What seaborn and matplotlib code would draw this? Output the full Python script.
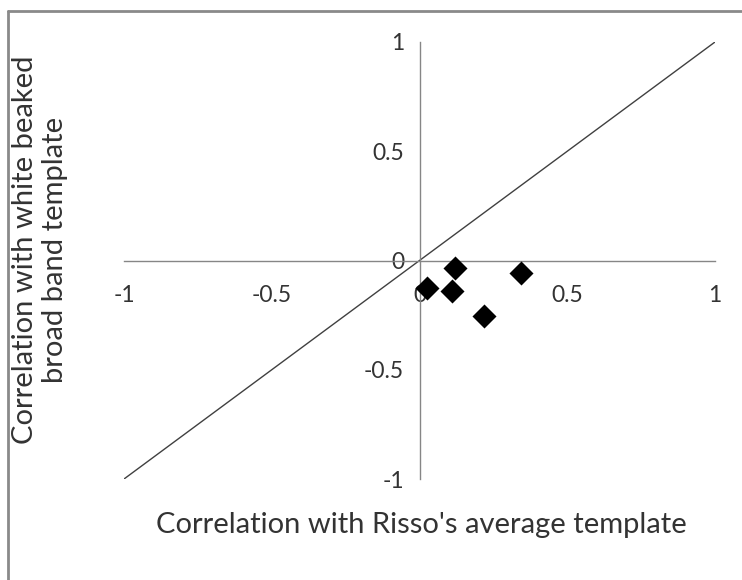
import matplotlib
matplotlib.use("Agg")
import matplotlib.pyplot as plt
import seaborn as sns
import pandas as pd
from matplotlib.lines import Line2D

# Correlation scores for each click
risso_corr = [0.025, 0.121, 0.110, 0.343, 0.219]
whitebeaked_corr = [-0.127, -0.035, -0.140, -0.058, -0.253]

# 1:1 reference line
ref_line = [-1, 1]
tick_values = [-1, -0.5, 0, 0.5, 1]
tick_labels = ["-1", "-0.5", "0", "0.5", "1"]

sns.set_style("white")
plt.rcParams["font.family"] = ["Lato", "DejaVu Sans"]

fig = plt.figure(figsize=(7.42, 5.8), dpi=100)
ax = fig.add_axes([124 / 742, 1 - 479 / 580, 591 / 742, 437 / 580])

df = pd.DataFrame({"risso": risso_corr, "white": whitebeaked_corr})

ax.plot(ref_line, ref_line, color="#404040", lw=1.0, zorder=2)
sns.scatterplot(data=df, x="risso", y="white", marker="D", color="black",
                s=150, edgecolor="black", linewidth=0, ax=ax, zorder=3)

ax.set_xlim(-1, 1)
ax.set_ylim(-1, 1)
ax.set_xticks(tick_values)
ax.set_xticklabels(tick_labels)
ax.set_yticks(tick_values)
ax.set_yticklabels(tick_labels)

for side in ("top", "right"):
    ax.spines[side].set_visible(False)
for side in ("left", "bottom"):
    ax.spines[side].set_position(("data", 0))
    ax.spines[side].set_color("#868686")
    ax.spines[side].set_linewidth(1.0)

ax.tick_params(axis="both", direction="out", length=8, width=1.0,
               color="#868686", labelsize=16.5, labelcolor="#333333")
ax.tick_params(axis="x", pad=10)
ax.tick_params(axis="y", pad=3)
ax.set_xlabel("")
ax.set_ylabel("")
ax.patch.set_alpha(0)

fig.text(421 / 742, 1 - 525 / 580, "Correlation with Risso's average template",
         ha="center", va="center", fontsize=21, color="#333333")
fig.text(40 / 742, 1 - 250 / 580, "Correlation with white beaked\nbroad band template",
         ha="center", va="center", rotation=90, multialignment="center",
         fontsize=21, color="#333333", linespacing=1.2)

# chart frame (left and top edges)
fig.add_artist(Line2D([8 / 742, 8 / 742], [0, 1 - 11 / 580],
                      transform=fig.transFigure, color="#8a8a8a", lw=2))
fig.add_artist(Line2D([8 / 742, 1], [1 - 11 / 580, 1 - 11 / 580],
                      transform=fig.transFigure, color="#8a8a8a", lw=2))

fig.savefig("out.png", dpi=100)
